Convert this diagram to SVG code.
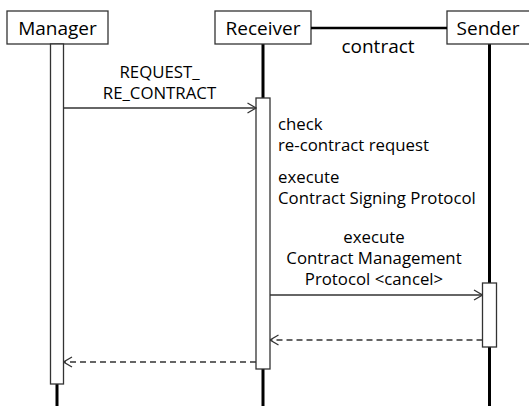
<svg xmlns="http://www.w3.org/2000/svg" width="529" height="406" viewBox="0 0 529 406">
<defs>
<style>
.box{fill:#fff;stroke:#333;stroke-width:1.3}
.life{stroke:#000;stroke-width:3;fill:none}
.bar{fill:#fff;stroke:#333;stroke-width:1.3}
.t{font-family:"Open Sans","Noto Sans",sans-serif;fill:#000}
.h{font-size:19px}
.l{font-size:16.8px}
.msg{stroke:#333;stroke-width:1.3;fill:none}
.ret{stroke:#333;stroke-width:1.3;fill:none;stroke-dasharray:6 4}
</style>
<marker id="open" viewBox="0 0 10 12" markerWidth="10" markerHeight="12" refX="9.5" refY="6" orient="auto" markerUnits="userSpaceOnUse">
<path d="M1,1 L9.5,6 L1,11" fill="none" stroke="#333" stroke-width="1.3"/>
</marker>
</defs>
<rect width="529" height="406" fill="#fff"/>
<g id="manager">
<line class="life" x1="57" y1="384" x2="57" y2="406"/>
<rect class="box" x="7" y="11" width="101" height="33"/>
<text class="t h" x="57.5" y="34.5" text-anchor="middle">Manager</text>
<rect class="bar" x="50.5" y="44" width="13" height="340"/>
</g>
<g id="receiver">
<line class="life" x1="263" y1="44" x2="263" y2="406"/>
<rect class="box" x="215" y="11" width="96" height="33"/>
<text class="t h" x="263" y="34.5" text-anchor="middle">Receiver</text>
<rect class="bar" x="256" y="98" width="14" height="271"/>
</g>
<g id="sender">
<line class="life" x1="489.5" y1="44" x2="489.5" y2="406"/>
<rect class="box" x="447" y="11" width="90" height="33"/>
<text class="t h" x="488" y="34.5" text-anchor="middle">Sender</text>
<rect class="bar" x="482.5" y="283" width="14" height="64"/>
</g>
<g id="connectors">
<line x1="311" y1="28" x2="447" y2="28" stroke="#000" stroke-width="2.5"/>
<text class="t h" x="378" y="53" text-anchor="middle">contract</text>
<line class="msg" x1="63.5" y1="108" x2="256" y2="108" marker-end="url(#open)"/>
<text class="t l" x="159.5" y="78" text-anchor="middle">REQUEST_</text>
<text class="t l" x="159.5" y="99" text-anchor="middle">RE_CONTRACT</text>
<line class="msg" x1="270" y1="295" x2="482.5" y2="295" marker-end="url(#open)"/>
<text class="t l" x="374" y="243" text-anchor="middle">execute</text>
<text class="t l" x="374" y="264" text-anchor="middle">Contract Management</text>
<text class="t l" x="374" y="285" text-anchor="middle">Protocol &lt;cancel&gt;</text>
<line class="ret" x1="482.5" y1="340" x2="270" y2="340" marker-end="url(#open)"/>
<line class="ret" x1="256" y1="362" x2="63.5" y2="362" marker-end="url(#open)"/>
</g>
<g id="notes">
<text class="t l" x="278" y="130">check</text>
<text class="t l" x="278" y="151">re-contract request</text>
<text class="t l" x="278" y="183">execute</text>
<text class="t l" x="278" y="204">Contract Signing Protocol</text>
</g>
</svg>
